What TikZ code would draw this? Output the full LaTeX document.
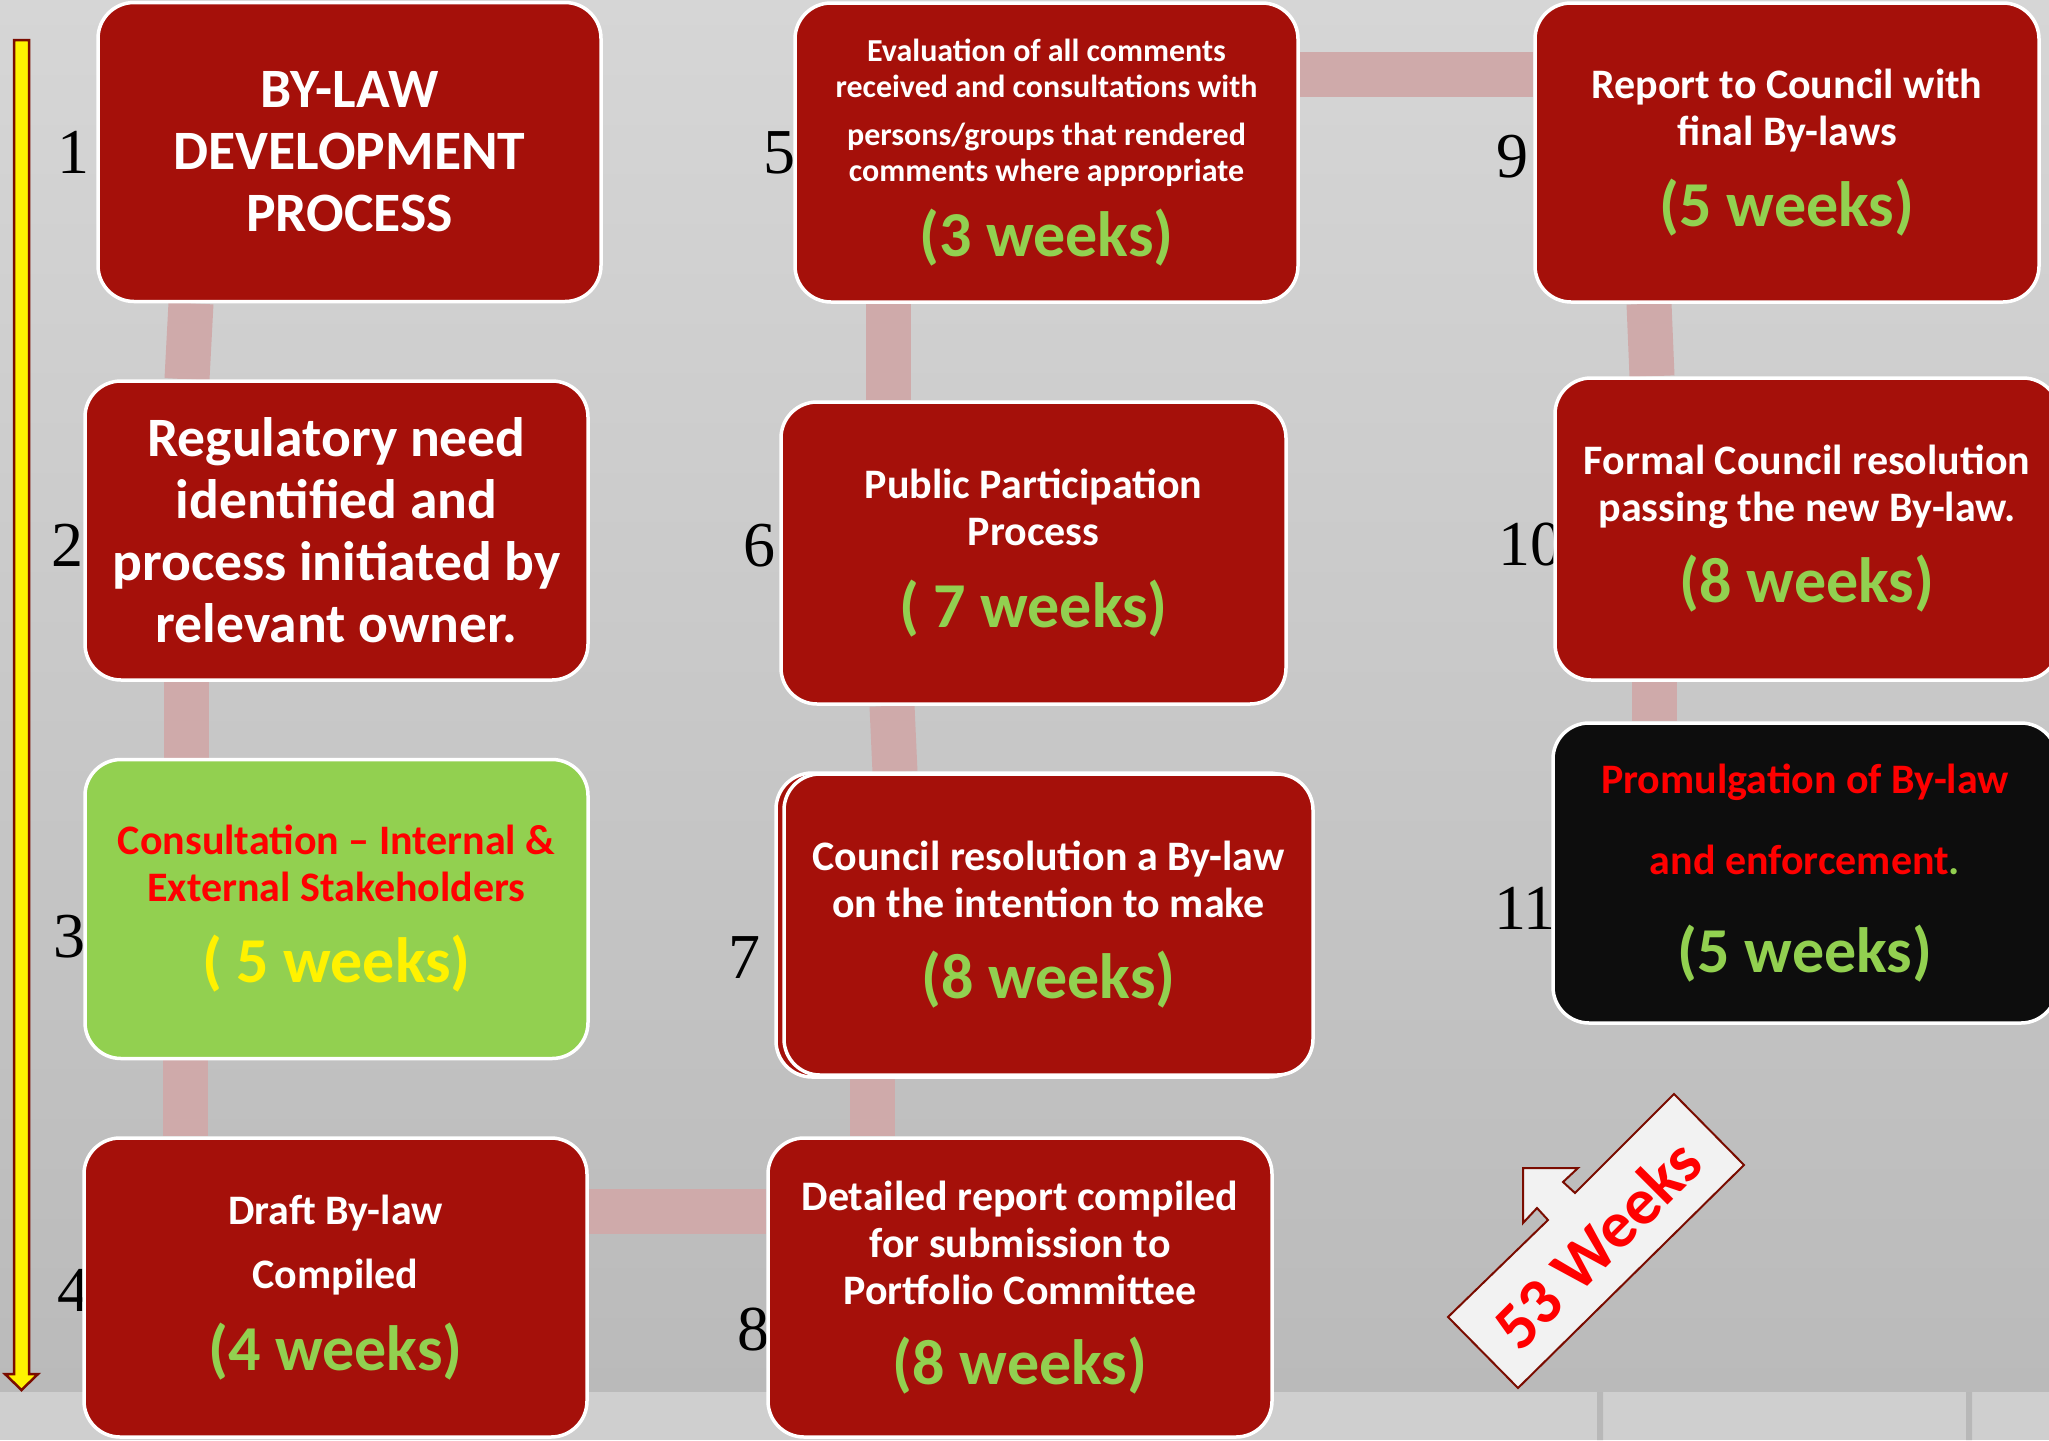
\documentclass[tikz,border=0pt]{standalone}
\usepackage{fontspec}
\newfontfamily\calibri{Carlito}
\newfontfamily\numfont{Liberation Serif}
\usetikzlibrary{positioning,calc}
\definecolor{stagered}{RGB}{165,16,10}
\definecolor{weekgreen}{RGB}{146,208,80}
\definecolor{linkpink}{RGB}{207,170,170}
\definecolor{edgered}{RGB}{122,12,0}
\definecolor{boardtop}{RGB}{214,214,214}
\definecolor{boardbottom}{RGB}{186,186,186}
\definecolor{stripgrey}{RGB}{207,207,207}
\definecolor{sepgrey}{RGB}{184,184,184}
\definecolor{nearblack}{RGB}{13,13,13}
\definecolor{panelwhite}{RGB}{242,242,242}
\newcommand{\bigtxt}{\fontsize{27.8}{31}\selectfont}
\newcommand{\midtxt}{\fontsize{21}{23.5}\selectfont}
\newcommand{\smalltxt}{\fontsize{16}{17.8}\selectfont}
\newcommand{\tightlines}{\lineskiplimit=-100pt}
\newcommand{\wk}[2][weekgreen]{{\fontsize{32}{36}\selectfont\color{#1}#2}}
\pgfdeclarelayer{backdrop}
\pgfdeclarelayer{links}
\pgfsetlayers{backdrop,links,main}
\tikzset{
	stage/.style={draw=white,line width=1.75pt,rounded corners=18pt,fill=stagered,text=white,align=center,
		minimum width=251.5pt,minimum height=149.5pt,inner sep=0pt,font=\calibri\bfseries\midtxt\tightlines},
	link/.style={linkpink,line width=22.5pt},
	num/.style={font=\numfont\fontsize{32}{32}\selectfont,inner sep=0pt},
}
\begin{document}
\begin{tikzpicture}[x=0.5pt,y=-0.5pt]
	\useasboundingbox (0,0) rectangle (2049,1440);
	\begin{pgfonlayer}{backdrop}
		\shade[top color=boardtop,bottom color=boardbottom] (0,0) rectangle (2049,1392);
		\fill[stripgrey] (0,1392) rectangle (2049,1440);
		\fill[sepgrey] (1597,1392) rectangle (1603,1440) (1966,1392) rectangle (1972,1440);
	\end{pgfonlayer}
	\draw[edgered,line width=1.25pt,fill=yellow] (14,40) -- (29,40) -- (29,1374) -- (38,1374) -- (21.5,1390) -- (5,1374) -- (14,1374) -- cycle;
	\node[num] (n1) at (73,152) {1};
	\node[num] (n2) at (67,545) {2};
	\node[num] (n3) at (69,937) {3};
	\node[num] (n4) at (73,1290) {4};
	\node[num] (n5) at (779,153) {5};
	\node[num] (n6) at (759,546) {6};
	\node[num] (n7) at (744,958) {7};
	\node[num] (n8) at (753,1330) {8};
	\node[num] (n9) at (1512,157) {9};
	\node[num] (n10) at (1530,545) {10};
	\node[num] (n11) at (1525,908) {11};

	\node[stage,font=\calibri\bfseries\bigtxt\tightlines] (b1) at (349.5,152) {BY-LAW\\DEVELOPMENT\\PROCESS};
	\node[stage,font=\calibri\bfseries\bigtxt\tightlines] (b2) at (336.5,530.5) {Regulatory need\\identified and\\process initiated by\\relevant owner.};
	\node[stage,fill=weekgreen,text=red] (b3) at (336.5,909) {Consultation – Internal \&\\External Stakeholders\\[17pt]\wk[yellow]{( 5 weeks)}};
	\node[stage] (b4) at (335.5,1287.5) {Draft By-law\\[8.5pt]Compiled\\[17.5pt]\wk{(4 weeks)}};
	\node[stage,font=\calibri\bfseries\smalltxt\tightlines] (b5) at (1046.5,152.5) {Evaluation of all comments\\received and consultations with\\[6.5pt]persons/groups that rendered\\comments where appropriate\\[19.5pt]\wk{(3 weeks)}};
	\node[stage,minimum width=252.5pt,minimum height=151pt] (b6) at (1033.5,553) {Public Participation\\Process\\[17.5pt]\wk{( 7 weeks)}};
	\node[stage,minimum width=264.5pt,minimum height=152pt] (b7s) at (1040.5,925) {};
	\node[stage,minimum width=264.5pt,minimum height=150.5pt] (b7) at (1048.5,924.5) {Council resolution a By-law\\on the intention to make\\[17pt]\wk{(8 weeks)}};
	\node[stage,minimum width=252pt] (b8) at (1020,1287.5) {Detailed report compiled\\for submission to\\Portfolio Committee\\[16.5pt]\wk{(8 weeks)}};
	\node[stage,minimum width=252pt] (b9) at (1787,152.5) {Report to Council with\\final By-laws\\[17pt]\wk{(5 weeks)}};
	\node[stage,minimum width=252pt,minimum height=151pt] (b10) at (1807,529) {Formal Council resolution\\passing the new By-law.\\[17pt]\wk{(8 weeks)}};
	\node[stage,minimum width=252pt,minimum height=150pt,fill=nearblack,text=red] (b11) at (1805,873) {Promulgation of By-law\\[17pt]and enforcement{\color{weekgreen}.}\\[25.5pt]\wk{(5 weeks)}};

	\begin{pgfonlayer}{links}
		\draw[link] ([xshift=-79.25pt]b1.south) -- ([xshift=-74.75pt]b2.north);
		\draw[link] ([xshift=-75.25pt]b2.south) -- ([xshift=-75.25pt]b3.north);
		\draw[link] ([xshift=-75.75pt]b3.south) -- ([xshift=-75.25pt]b4.north);
		\draw[link] ([yshift=38.25pt]b4.east) -- ([yshift=38.25pt]b8.west);
		\draw[link] ([xshift=-74pt]b8.north) -- ([xshift=-88.25pt]b7.south);
		\draw[link] ([xshift=-76.75pt]b7.north) -- ([xshift=-70.75pt]b6.south);
		\draw[link] ([xshift=-72.75pt]b6.north) -- ([xshift=-79.25pt]b5.south);
		\draw[link] ([yshift=39.25pt]b5.east) -- ([yshift=39.25pt]b9.west);
		\draw[link] ([xshift=-69pt]b9.south) -- ([xshift=-77.5pt]b10.north);
		\draw[link] ([xshift=-76.5pt]b10.south) -- ([xshift=-75.5pt]b11.north);
	\end{pgfonlayer}

	\draw[edgered,line width=1pt,fill=panelwhite] (1518,1388) -- (1448,1317) -- (1548,1220) -- (1537,1208) -- (1523,1223) -- (1523,1168) -- (1578,1168) -- (1563,1182) -- (1575,1193) -- (1674,1094) -- (1744,1165) -- cycle;
	\node[rotate=45,text=red,font=\calibri\bfseries\fontsize{33}{33}\selectfont,inner sep=0pt] (total) at (1597,1244) {53 Weeks};
\end{tikzpicture}
\end{document}
